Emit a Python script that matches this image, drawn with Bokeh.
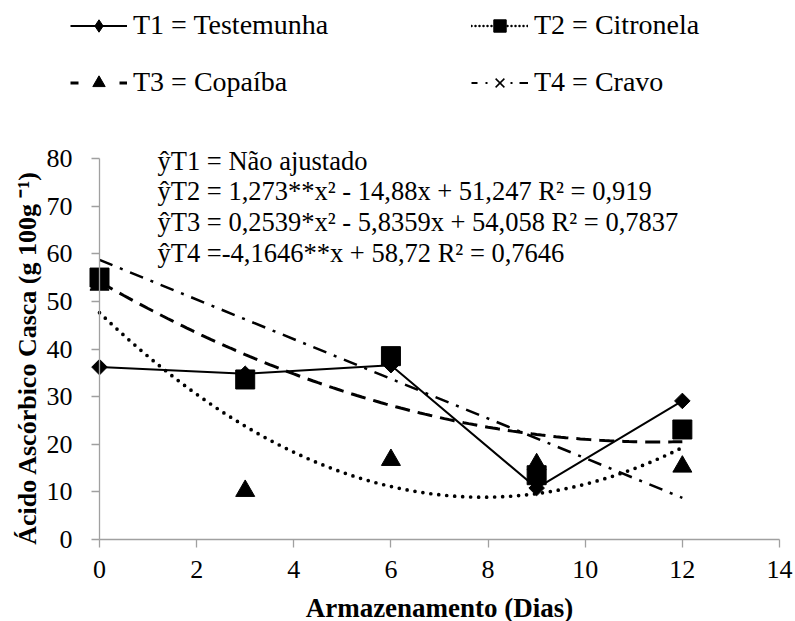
import numpy as np
from bokeh.plotting import figure
from bokeh.models import Range1d, FixedTicker, Label, Legend, LegendItem
from bokeh.embed import file_html
from bokeh.resources import INLINE

# ---------------- data ----------------
dias = [0, 3, 6, 9, 12]
t1_testemunha = [36.2, 34.8, 36.6, 10.8, 29.1]      # diamonds, solid line
quadrados = [55.0, 33.6, 38.5, 13.5, 23.1]          # squares
triangulos = [53.5, 10.2, 16.7, 15.8, 15.3]         # triangles
t4_coef = [-4.1646, 58.72]                          # printed linear equation (T4)

x_ticks = [0, 2, 4, 6, 8, 10, 12, 14]
y_ticks = [0, 10, 20, 30, 40, 50, 60, 70, 80]

legend_labels = ["T1 = Testemunha", "T2 = Citronela", "T3 = Copaíba", "T4 = Cravo"]
equacoes = [
    "ŷT1 = Não ajustado",
    "ŷT2 = 1,273**x² - 14,88x + 51,247 R² = 0,919",
    "ŷT3 = 0,2539*x² - 5,8359x + 54,058 R² = 0,7837",
    "ŷT4 =-4,1646**x + 58,72 R² = 0,7646",
]
x_title = "Armazenamento (Dias)"
y_title = "Ácido Ascórbico Casca  (g 100g ⁻¹)"

FONT = "Liberation Serif"
AXIS_GRAY = "#a0a0a0"

# ---------------- canvas layout (pixels) ----------------
W, H = 795, 621
AX_LEFT, AX_RIGHT = 99, 779      # pixel extent of x = 0 .. 14
AX_BOTTOM, AX_TOP = 539, 158     # pixel extent of y = 0 .. 80
px_per_x = (AX_RIGHT - AX_LEFT) / (x_ticks[-1] - x_ticks[0])
px_per_y = (AX_BOTTOM - AX_TOP) / (y_ticks[-1] - y_ticks[0])
x_range = Range1d(x_ticks[0] - AX_LEFT / px_per_x, x_ticks[0] + (W - AX_LEFT) / px_per_x)
y_range = Range1d(y_ticks[0] - (H - AX_BOTTOM) / px_per_y, y_ticks[0] + AX_BOTTOM / px_per_y)

p = figure(width=W, height=H, min_border=0, x_range=x_range, y_range=y_range,
           output_backend="svg", toolbar_location=None)
p.outline_line_color = None
p.xgrid.visible = False
p.ygrid.visible = False

# ---------------- trend lines ----------------
xs_fit = np.linspace(dias[0], dias[-1], 121)
coef_tri = np.polyfit(dias, triangulos, 2)
coef_sq = np.polyfit(dias, quadrados, 2)
p.line(xs_fit, np.polyval(coef_tri, xs_fit), line_color="black", line_width=3.7,
       line_dash="0 8", line_cap="round")
p.line(xs_fit, np.polyval(coef_sq, xs_fit), line_color="black", line_width=3,
       line_dash="15 8")
x4 = [dias[0], dias[-1]]
p.line(x4, np.polyval(t4_coef, x4), line_color="black", line_width=2.5,
       line_dash="14 8 3 8")

# ---------------- series ----------------
p.line(dias, t1_testemunha, line_color="black", line_width=2)
p.scatter(dias, t1_testemunha, marker="square", angle=np.pi / 4, size=11,
          fill_color="black", line_color="black")
p.scatter(dias, triangulos, marker="triangle", size=19, fill_color="black", line_color="black")
p.scatter(dias, quadrados, marker="square", size=19, fill_color="black", line_color="black")

# ---------------- legend (sample glyphs, not drawn in the plot area) ----------------
nan = [np.nan]
l1 = p.line(x=nan, y=nan, line_color="black", line_width=2)
m1 = p.scatter(x=nan, y=nan, marker="diamond", fill_color="black", line_color="black")
l2 = p.line(x=nan, y=nan, line_color="black", line_width=2.5, line_dash="0 4", line_cap="round")
m2 = p.scatter(x=nan, y=nan, marker="square", fill_color="black", line_color="black")
l3 = p.line(x=nan, y=nan, line_color="black", line_width=3, line_dash="8 41")
m3 = p.scatter(x=nan, y=nan, marker="triangle", fill_color="black", line_color="black")
l4 = p.line(x=nan, y=nan, line_color="black", line_width=2, line_dash="6 8 2 23 2 7 9 1")
m4 = p.scatter(x=nan, y=nan, marker="x", line_color="black", line_width=1.5)

items = [
    LegendItem(label=legend_labels[0], renderers=[l1, m1]),
    LegendItem(label=legend_labels[1], renderers=[l2, m2]),
    LegendItem(label=legend_labels[2], renderers=[l3, m3]),
    LegendItem(label=legend_labels[3], renderers=[l4, m4]),
]
legend = Legend(items=items, orientation="horizontal", ncols=2, nrows=2,
                location=(70, 523), padding=0, margin=0, spacing=25,
                glyph_width=57, glyph_height=31, label_height=31, label_width=313,
                label_standoff=6, label_text_font=FONT, label_text_font_size="28px",
                label_text_color="black", label_text_baseline="middle",
                border_line_color=None, background_fill_alpha=0)
p.add_layout(legend, "center")

# ---------------- equations ----------------
eq_rows_px = [160, 190.5, 221.5, 252]
for txt, row in zip(equacoes, eq_rows_px):
    p.add_layout(Label(x=157, y=H - row, x_units="screen", y_units="screen", text=txt,
                       text_font=FONT, text_font_size="26.5px", text_color="black",
                       text_baseline="middle", text_align="left"))

# ---------------- axes ----------------
for ax in (p.xaxis[0], p.yaxis[0]):
    ax.fixed_location = 0
    ax.axis_line_color = AXIS_GRAY
    ax.axis_line_width = 1.3
    ax.major_tick_line_color = AXIS_GRAY
    ax.major_tick_line_width = 1.3
    ax.major_tick_in = 0
    ax.major_tick_out = 8
    ax.minor_tick_in = 0
    ax.minor_tick_out = 0
    ax.major_label_text_font = FONT
    ax.major_label_text_font_size = "26px"
    ax.major_label_text_color = "black"

p.xaxis.ticker = FixedTicker(ticks=x_ticks)
p.yaxis.ticker = FixedTicker(ticks=y_ticks)
p.xaxis.bounds = (x_ticks[0], x_ticks[-1])
p.yaxis.bounds = (y_ticks[0], y_ticks[-1])
p.xaxis.major_label_standoff = 13
p.yaxis.major_label_standoff = 19

# axis titles
p.add_layout(Label(x=(AX_LEFT + AX_RIGHT) / 2, y=H - 607, x_units="screen", y_units="screen",
                   text=x_title, text_font=FONT, text_font_size="27px", text_font_style="bold",
                   text_color="black", text_align="center", text_baseline="middle"))
p.add_layout(Label(x=27, y=H - 354, x_units="screen", y_units="screen", angle=np.pi / 2,
                   text=y_title, text_font=FONT, text_font_size="26px", text_font_style="bold",
                   text_color="black", text_align="center", text_baseline="middle"))

open("out.html", "w").write(file_html(p, INLINE))
